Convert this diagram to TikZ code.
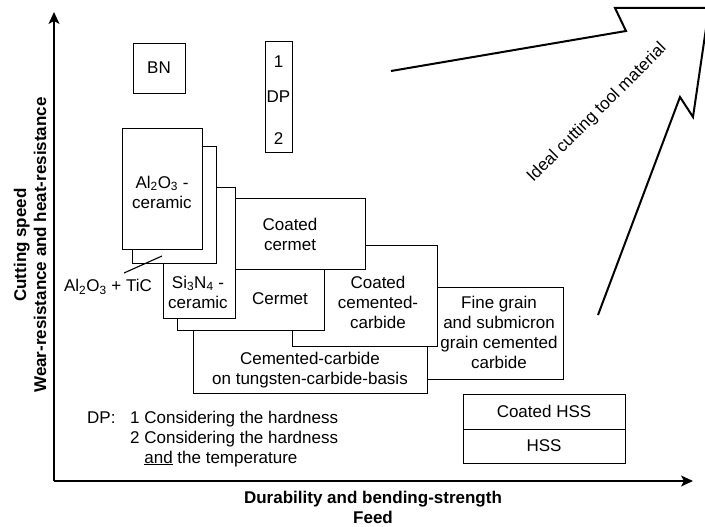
\documentclass[tikz,border=0pt]{standalone}
\usepackage{fontspec}
\setmainfont{Liberation Sans}
\usetikzlibrary{arrows.meta}
\newcommand{\mysub}[1]{\textsubscript{#1}}
\tikzset{
  box/.style={draw=black, fill=white, line width=1.1pt, inner sep=0pt, anchor=north west},
  txt/.style={inner sep=0pt, align=center, font=\fontsize{17}{20}\selectfont},
  axlbl/.style={inner sep=0pt, align=center, font=\fontsize{17}{20}\selectfont\bfseries},
  axis/.style={line width=1.2pt, -{Stealth[length=12pt,width=11pt,inset=3pt]}},
}
\newcommand{\bx}[5]{\node[box, minimum width=#4-#2, minimum height=#5-#3] (#1) at (#2,#3) {};}
\begin{document}
\begin{tikzpicture}[x=1pt,y=-1pt]
\useasboundingbox (0,0) rectangle (705,527);
% axes
\coordinate (O) at (54,481);
\coordinate (ytop) at (54,12);
\coordinate (xend) at (693,481);
\draw[axis] (O) -- (ytop);
\draw[axis] (O) -- (xend);
\node[axlbl, rotate=90] (ylab) at (30,245) {Cutting speed\\Wear-resistance and heat-resistance};
\node[axlbl] (xlab) at (373,507) {Durability and bending-strength\\Feed};
% big arrow
\draw[line width=2pt, line join=miter] (391,71) -- (626,31) -- (615,8) -- (709,8) -- (693,117) -- (680,97) -- (598,315);
\node[txt, rotate=45] (ideal) at (597,113) {Ideal cutting tool material};
% boxes back to front
\bx{fine}{400}{287}{563}{379}
\node[txt] (tfine) at (499,332) {Fine grain\\and submicron\\grain cemented\\carbide};
\bx{cc}{193}{320}{427}{393}
\node[txt] (tcc) at (310,370) {Cemented-carbide\\on tungsten-carbide-basis};
\bx{ccc}{292}{245}{437}{346}
\node[txt] (tccc) at (378,302) {Coated\\cemented-\\carbide};
\bx{cermet}{177}{250}{324}{330}
\node[txt] (tcermet) at (280,299) {Cermet};
\bx{ccermet}{235}{198}{365}{269}
\node[txt] (tccermet) at (290,234) {Coated\\cermet};
\bx{si}{163}{187}{235}{318}
\node[txt] (tsi) at (198,292) {Si\mysub{3}N\mysub{4} -\\ceramic};
\bx{tic}{132}{146}{216}{263}
\bx{al}{122}{128}{202}{249}
\node[txt] (tal) at (162,192) {Al\mysub{2}O\mysub{3} -\\ceramic};
\node[txt] (ttic) at (108,287) {Al\mysub{2}O\mysub{3} + TiC};
\coordinate (la) at (124,273);
\coordinate (lb) at (162,256);
\draw[line width=1.1pt] (la) -- (lb);
% BN and DP
\bx{bn}{133}{43}{185}{93}
\node[txt] (tbn) at (159,68) {BN};
\bx{dp}{265}{41}{292}{152}
\node[txt] (tdp1) at (278.5,62) {1};
\node[txt] (tdp) at (278.5,97) {DP};
\node[txt] (tdp2) at (278.5,139) {2};
% HSS
\bx{chss}{463}{394}{625}{429}
\node[txt] (tchss) at (544,411.5) {Coated HSS};
\bx{hss}{463}{429}{625}{463}
\node[txt] (thss) at (544,446) {HSS};
% legend
\node[txt, anchor=base west] (ldp) at (87,423) {DP:};
\node[txt, anchor=base west] (l1) at (130,423) {1 Considering the hardness};
\node[txt, anchor=base west] (l2) at (130,443.5) {2 Considering the hardness};
\node[txt, anchor=base west] (l3) at (130,463) {\hphantom{2 }\underline{and} the temperature};
\end{tikzpicture}
\end{document}
